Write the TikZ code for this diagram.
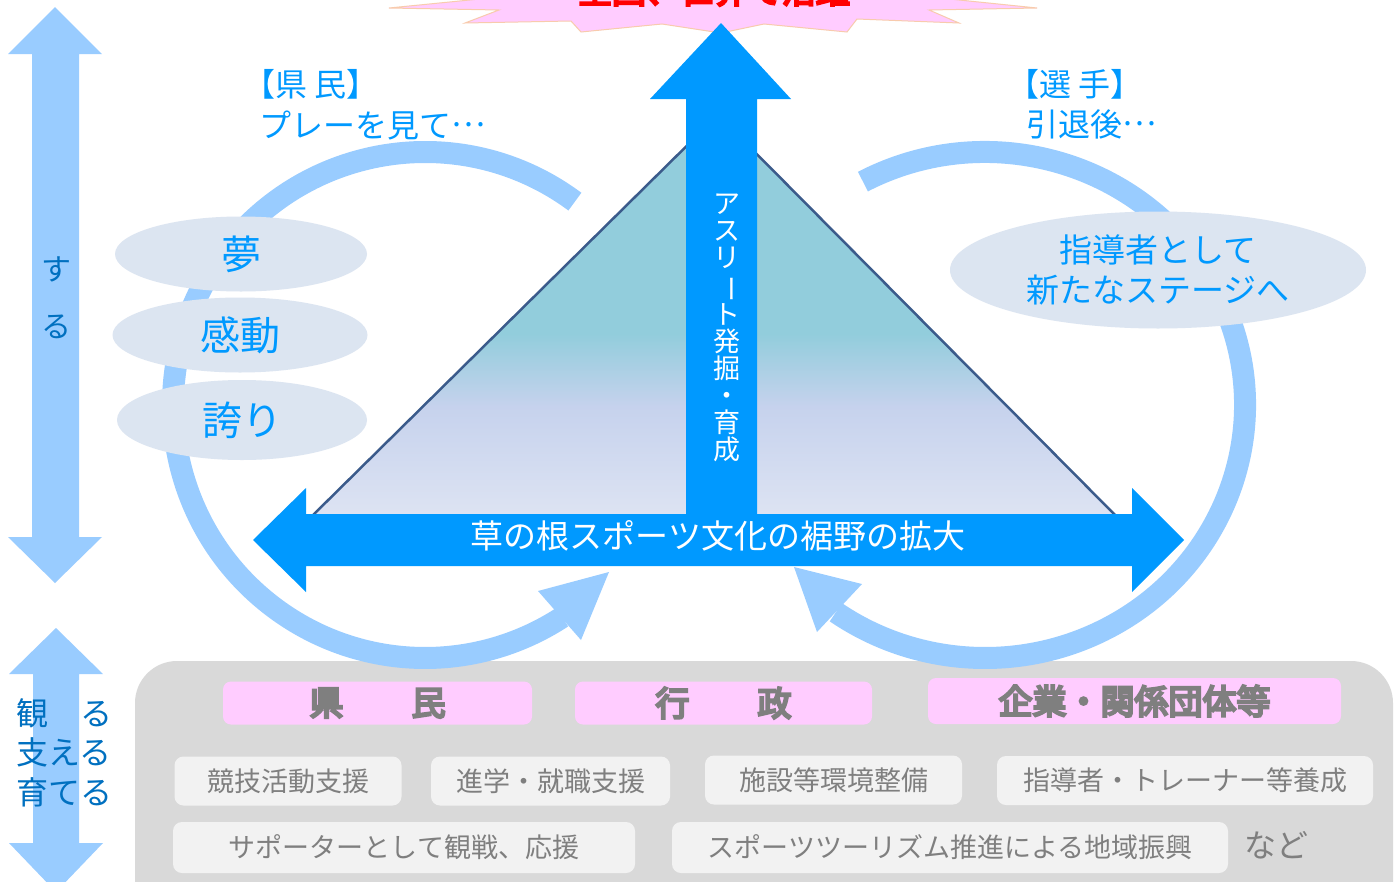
\documentclass[tikz,border=0pt]{standalone}
\usepackage{fontspec}
\setmainfont{Noto Sans CJK JP}
\newfontfamily\hvy{Noto Sans CJK JP}[FakeBold=7]
\usetikzlibrary{shapes.geometric,calc}
\definecolor{loopblue}{HTML}{99CCFF}
\definecolor{mainblue}{HTML}{0099FF}
\definecolor{txtblue}{HTML}{0099FF}
\definecolor{darkblue}{HTML}{0070C0}
\definecolor{ellfill}{HTML}{DCE5F1}
\definecolor{triedge}{HTML}{3B5B8B}
\definecolor{pinkbox}{HTML}{FFCCFF}
\definecolor{greybox}{HTML}{D9D9D9}
\definecolor{itembox}{HTML}{F2F2F2}
\definecolor{greytxt}{HTML}{7F7F7F}
\definecolor{staredge}{HTML}{F8CBAD}
\definecolor{triT}{HTML}{92CDDC}
\definecolor{triM}{HTML}{C6D2ED}
\definecolor{triB}{HTML}{DEE4F3}
\pgfdeclareverticalshading{trishade}{100bp}{color(0bp)=(triB); color(25bp)=(triB); color(39bp)=(triM); color(48bp)=(triT); color(75bp)=(triT); color(100bp)=(triT)}
\newcommand{\middots}{\raisebox{0.33em}{…}}
\tikzset{
  lbl/.style={text=txtblue, inner sep=0, font=\fontsize{32}{32}\selectfont},
  oval/.style={ellipse, fill=ellfill, inner sep=0, text=txtblue},
  loopline/.style={draw=loopblue, line width=22pt},
  sidearrow/.style={fill=loopblue},
  bigarrow/.style={fill=mainblue},
  sidetxt/.style={text=darkblue, inner sep=0, font=\fontsize{32}{32}\selectfont},
  pinkhdr/.style={fill=pinkbox, rounded corners=8pt, inner sep=0, text=greytxt, font=\hvy\fontsize{34}{34}\selectfont},
  itembox/.style={fill=itembox, rounded corners=9pt, inner sep=0, text=greytxt, font=\fontsize{27}{27}\selectfont},
}
\begin{document}
\begin{tikzpicture}[x=1pt,y=-1pt]
\clip (0,0) rectangle (1395,881);
\fill[white] (0,0) rectangle (1395,881);

% starburst
\filldraw[fill=pinkbox, draw=staredge, line width=1pt]
  (389,8) -- (499,10) -- (465,23) -- (571,21) -- (581,32) -- (662,24) -- (721,33)
  -- (764,24) -- (847,32) -- (857,19) -- (959,23) -- (929,10) -- (1037,8)
  -- (930,-3) -- (712,-60) -- (500,-3) -- cycle;
\node[anchor=base, text=red, inner sep=0, font=\hvy\fontsize{34}{34}\selectfont] (title) at (714,3) {全国、世界で活躍};

% side arrows
\fill[sidearrow] (55,7) -- (102,54) -- (79,54) -- (79,537) -- (102,537) -- (55,583)
  -- (8,537) -- (32,537) -- (32,54) -- (8,54) -- cycle;
\fill[sidearrow] (56,628) -- (103,674) -- (79,674) -- (79,843) -- (103,843) -- (56,892)
  -- (9,843) -- (33,843) -- (33,674) -- (9,674) -- cycle;
\node[sidetxt, font=\fontsize{30}{30}\selectfont] (su) at (56,269) {す};
\node[sidetxt, font=\fontsize{30}{30}\selectfont] (ru) at (56,327) {る};
\node[sidetxt, anchor=west] (miru) at (16,713) {観　る};
\node[sidetxt, anchor=west] (sasaeru) at (16,752) {支える};
\node[sidetxt, anchor=west] (sodateru) at (16,792) {育てる};

% bottom grey panel
\fill[greybox, rounded corners=42pt] (135,661) rectangle (1393,930);

% loops
\draw[loopline] ($(425,405)+(-53.5:252 and 253)$) arc[start angle=-53.5, end angle=-303, x radius=252, y radius=253];
\fill[loopblue] (609,572) -- (538,591) -- (581,640) -- cycle;
\draw[loopline] ($(985,405)+(-118:260 and 253)$) arc[start angle=-118, end angle=125, x radius=260, y radius=253];
\fill[loopblue] (794,567) -- (862,584) -- (817,632) -- cycle;

% triangle
\fill[shading=trishade] (718,115) -- (308,520) -- (1120,520) -- cycle;
\draw[triedge, line width=2.5pt] (308,520) -- (718,115) -- (1120,520);

% big arrows
\fill[bigarrow] (721,23) -- (791,99) -- (757,99) -- (757,540) -- (686,540) -- (686,99) -- (650,99) -- cycle;
\fill[bigarrow] (253,540) -- (306,488) -- (306,514) -- (1132,514) -- (1132,488) -- (1184,540)
  -- (1132,592) -- (1132,566) -- (306,566) -- (306,592) -- cycle;
\node[text=white, inner sep=0, font=\fontsize{33}{33}\selectfont] (base) at (718,536) {草の根スポーツ文化の裾野の拡大};
\node[text=white, inner sep=0, align=center, font=\fontsize{27}{27}\selectfont] (vt) at (727,328)
  {ア\\ス\\リ\\\rotatebox[origin=c]{-90}{ー}\\ト\\発\\掘\\・\\育\\成};

% ovals
\node[oval, minimum width=252pt, minimum height=75pt, font=\fontsize{40}{40}\selectfont] (yume) at (241,254) {夢};
\node[oval, minimum width=255pt, minimum height=75pt, font=\fontsize{40}{40}\selectfont] (kando) at (240,335) {感動};
\node[oval, minimum width=250pt, minimum height=80pt, font=\fontsize{40}{40}\selectfont] (hokori) at (242,420) {誇り};
\node[oval, minimum width=416pt, minimum height=117pt, align=center, font=\fontsize{33}{40}\selectfont] (coach) at (1158,270) {指導者として\\新たなステージへ};

% labels
\node[lbl, anchor=west] (kenmin) at (243,84) {【県 民】};
\node[lbl, anchor=west] (play) at (259,125) {プレーを見て\middots};
\node[lbl, anchor=west] (senshu) at (1007,84) {【選 手】};
\node[lbl, anchor=west] (intai) at (1026,124) {引退後\middots};

% headers
\node[pinkhdr, minimum width=309pt, minimum height=43pt] (h1) at (377.5,703) {県　　民};
\node[pinkhdr, minimum width=297pt, minimum height=43pt] (h2) at (723.5,703) {行　　政};
\node[pinkhdr, minimum width=413pt, minimum height=46pt] (h3) at (1134.5,701) {企業・関係団体等};

% items
\node[itembox, minimum width=227pt, minimum height=49pt] (i1) at (288,781) {競技活動支援};
\node[itembox, minimum width=239pt, minimum height=49pt] (i2) at (550.5,781) {進学・就職支援};
\node[itembox, minimum width=257pt, minimum height=49pt] (i3) at (833.5,780) {施設等環境整備};
\node[itembox, minimum width=376pt, minimum height=49pt] (i4) at (1185,780.5) {指導者・トレーナー等養成};
\node[itembox, minimum width=462pt, minimum height=51pt] (i5) at (404,847.5) {サポーターとして観戦、応援};
\node[itembox, minimum width=556pt, minimum height=51pt] (i6) at (950,847.5) {スポーツツーリズム推進による地域振興};
\node[text=greytxt, inner sep=0, font=\fontsize{32}{32}\selectfont] (nado) at (1276,845) {など};
\end{tikzpicture}
\end{document}
